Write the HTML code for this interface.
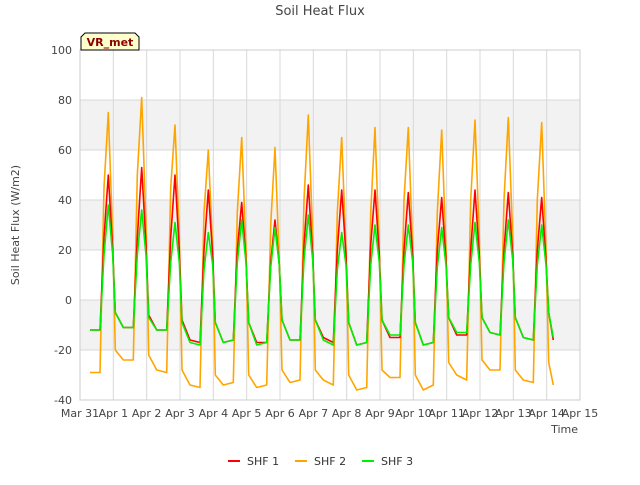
<!DOCTYPE html>
<html><head><meta charset="utf-8"><style>
body{margin:0;background:#fff;font-family:"Liberation Sans","DejaVu Sans",sans-serif;}
</style></head><body>
<svg id="chart" width="640" height="480" xmlns="http://www.w3.org/2000/svg" font-family="DejaVu Sans, Liberation Sans, sans-serif">
<rect width="640" height="480" fill="#fff"/>
<g id="bands"></g>
<g id="grid"></g>
<g id="series"></g>
<g id="axes"></g>
<text x="320" y="15" text-anchor="middle" font-size="13" fill="#444">Soil Heat Flux</text>
<text transform="translate(19,225) rotate(-90)" text-anchor="middle" font-size="11" fill="#444">Soil Heat Flux (W/m2)</text>
<text x="578" y="433" text-anchor="end" font-size="11" fill="#444">Time</text>
<g id="legend"></g>
<g>
<path d="M81,50 L81,37 L85,33 L135,33 L139,37 L139,50 Z" fill="#ffffcc" stroke="#000" stroke-width="1"/>
<text x="110" y="46" text-anchor="middle" font-size="11" font-weight="bold" fill="#8b0000">VR_met</text>
</g>
</svg>
<script>
const yTicks=[-40,-20,0,20,40,60,80,100];
const xTickLabels=["Mar 31","Apr 1","Apr 2","Apr 3","Apr 4","Apr 5","Apr 6","Apr 7","Apr 8","Apr 9","Apr 10","Apr 11","Apr 12","Apr 13","Apr 14","Apr 15"];
const seriesNames=["SHF 1","SHF 2","SHF 3"];
const seriesColors=["#ff0000","#ffa500","#00ee00"];
// per-day sample fractions; day 0 starts at 0.3
const fracs=[0.06,0.3,0.6,0.72,0.85,0.98];
const shf1=[
-12,-12,25,50,20,
-5,-11,-11,25,53,22,
-6,-12,-12,25,50,20,
-8,-16,-17,20,44,18,
-9,-17,-16,20,39,16,
-9,-17,-17,15,32,14,
-8,-16,-16,22,46,18,
-8,-15,-17,20,44,18,
-9,-18,-17,22,44,18,
-8,-15,-15,20,43,18,
-9,-18,-17,20,41,16,
-7,-14,-14,20,44,18,
-7,-13,-14,20,43,18,
-7,-15,-16,20,41,16,
-5,-16];
const shf2=[
-29,-29,45,75,25,
-20,-24,-24,50,81,30,
-22,-28,-29,45,70,25,
-28,-34,-35,35,60,20,
-30,-34,-33,35,65,20,
-30,-35,-34,30,61,15,
-28,-33,-32,40,74,25,
-28,-32,-34,35,65,20,
-30,-36,-35,35,69,20,
-28,-31,-31,40,69,20,
-30,-36,-34,35,68,20,
-25,-30,-32,40,72,25,
-24,-28,-28,40,73,25,
-28,-32,-33,40,71,20,
-25,-34];
const shf3=[
-12,-12,18,38,18,
-5,-11,-11,18,36,18,
-7,-12,-12,15,31,15,
-9,-17,-18,12,27,14,
-9,-17,-16,15,32,15,
-9,-18,-17,13,29,14,
-8,-16,-16,16,34,16,
-8,-16,-18,12,27,14,
-9,-18,-17,14,30,15,
-8,-14,-14,14,30,15,
-9,-18,-17,13,29,14,
-7,-13,-13,14,31,15,
-7,-13,-14,15,32,16,
-7,-15,-16,14,30,14,
-5,-15];
const allSeries=[shf1,shf2,shf3];
const X0=80,X1=580,Y0=400,Y1=50;
const xs=d=>X0+(d)/15*(X1-X0);
const ys=v=>Y0-(v+40)/140*(Y0-Y1);
const times=[];
for(let d=0;d<14;d++){for(const f of fracs){if(d===0&&f<0.3)continue;times.push(d+f);}}
times.push(14.06,14.2);
const NS="http://www.w3.org/2000/svg";
function mk(tag,attrs,parent){const e=document.createElementNS(NS,tag);for(const k in attrs)e.setAttribute(k,attrs[k]);parent.appendChild(e);return e;}
const bands=document.getElementById('bands'),grid=document.getElementById('grid'),axes=document.getElementById('axes'),ser=document.getElementById('series'),leg=document.getElementById('legend');
[[60,80],[20,40],[-20,0]].forEach(b=>{
 const r=mk('rect',{x:X0,y:ys(b[1]),width:X1-X0,height:ys(b[0])-ys(b[1]),fill:'#f2f2f2'},bands);
 
 
});
yTicks.forEach(v=>{
 const l=mk('line',{x1:X0,x2:X1,y1:ys(v),y2:ys(v),stroke:'#d8d8d8','stroke-width':1},grid);
 
 
 const t=mk('text',{x:X0-8,y:ys(v)+4,'text-anchor':'end','font-size':11,fill:'#444'},axes);
 t.textContent=v;
 
 
});
xTickLabels.forEach((s,i)=>{
 const l=mk('line',{x1:xs(i),x2:xs(i),y1:Y1,y2:Y0,stroke:'#d8d8d8','stroke-width':1},grid);
 
 
 const t=mk('text',{x:xs(i),y:Y0+17,'text-anchor':'middle','font-size':11,fill:'#444'},axes);
 t.textContent=s;
 
 
});
const frame=mk('rect',{x:X0,y:Y1,width:X1-X0,height:Y0-Y1,fill:'none',stroke:'#ccc'},axes);


[1,0,2].forEach(si=>{
 const vals=allSeries[si];
 const pts=vals.map((v,i)=>xs(times[i]).toFixed(1)+','+ys(v).toFixed(1)).join(' ');
 const p=mk('polyline',{points:pts,fill:'none',stroke:seriesColors[si],'stroke-width':1.6,'stroke-linejoin':'round'},ser);
 
 
});
const legX=[228,295,362];
seriesNames.forEach((n,i)=>{
 const g=mk('g',{},leg);
 
 
 mk('line',{x1:legX[i],x2:legX[i]+12,y1:461,y2:461,stroke:seriesColors[i],'stroke-width':2},g);
 const t=mk('text',{x:legX[i]+19,y:465,'font-size':11,fill:'#333'},g);
 t.textContent=n;
});
</script>
</body></html>
